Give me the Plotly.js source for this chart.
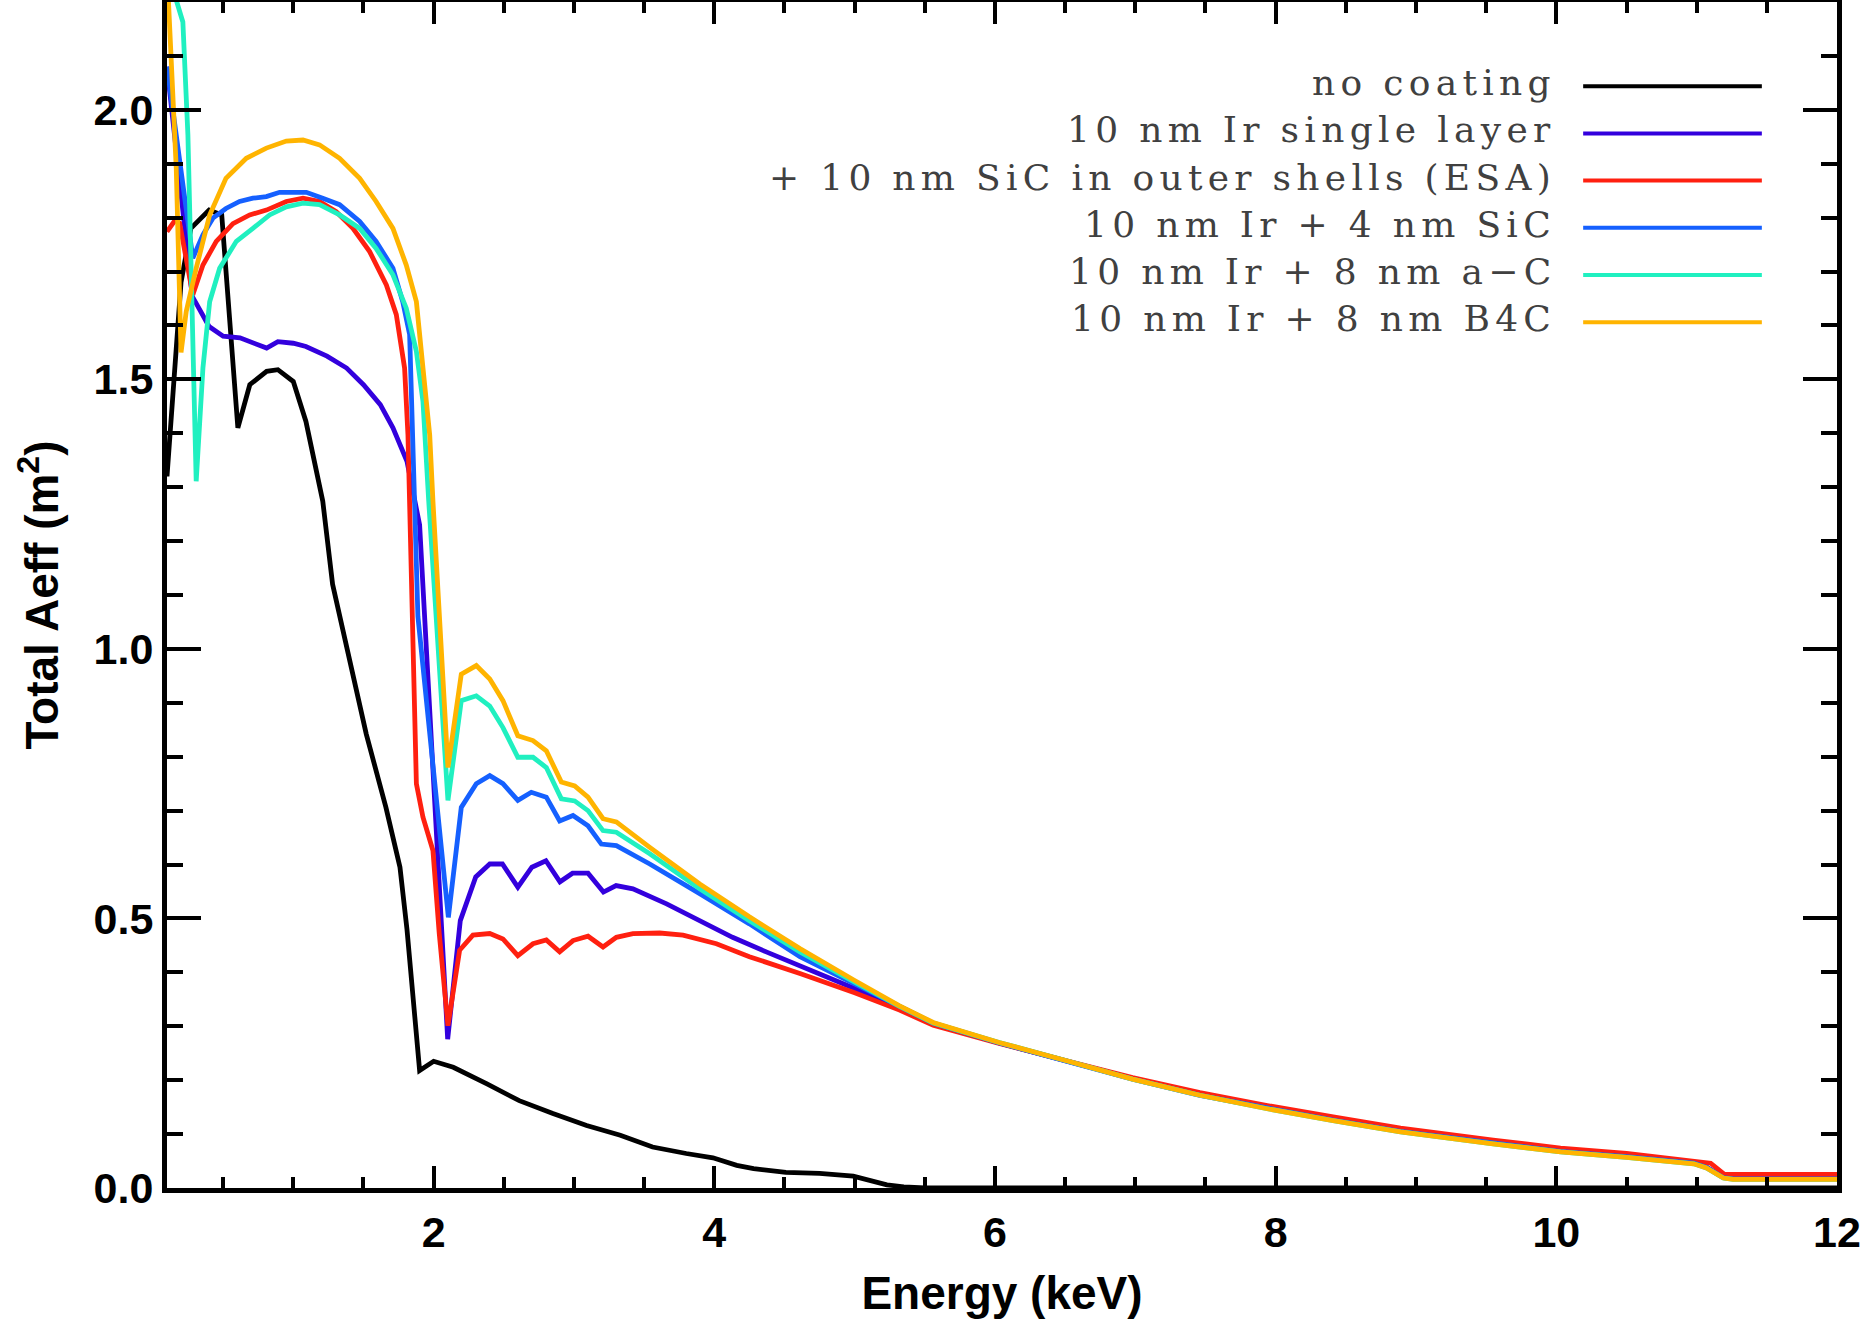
<!DOCTYPE html>
<html>
<head>
<meta charset="utf-8">
<script src="https://cdn.plot.ly/plotly-3.0.1.min.js"></script>
<style>html,body{margin:0;padding:0;background:#fff}</style>
</head>
<body>
<div id="AeffPlot" style="width:1874px;height:1327px"></div>
<script>
// no coating
var eNone = [0.1, 0.15, 0.2, 0.27, 0.34, 0.40, 0.49, 0.605, 0.69, 0.81, 0.89, 1.0, 1.09, 1.21, 1.28, 1.40, 1.52, 1.66, 1.76, 1.81, 1.90, 2.0, 2.14, 2.38, 2.61, 2.85, 3.09, 3.33, 3.56, 3.80, 3.99, 4.16, 4.28, 4.51, 4.75, 4.99, 5.11, 5.23, 5.35, 5.5, 12.0];
var aNone = [1.32, 1.50, 1.68, 1.78, 1.80, 1.814, 1.805, 1.41, 1.49, 1.515, 1.518, 1.496, 1.422, 1.274, 1.12, 0.978, 0.842, 0.706, 0.595, 0.48, 0.218, 0.235, 0.224, 0.193, 0.162, 0.138, 0.116, 0.098, 0.076, 0.064, 0.056, 0.042, 0.036, 0.029, 0.027, 0.022, 0.014, 0.006, 0.002, 0.0, 0.0];

// 10 nm Ir single layer
var eIr = [0.1, 0.28, 0.40, 0.50, 0.62, 0.74, 0.81, 0.89, 1.0, 1.09, 1.24, 1.38, 1.50, 1.62, 1.71, 1.81, 1.87, 1.90, 2.10, 2.19, 2.30, 2.40, 2.49, 2.60, 2.70, 2.80, 2.90, 2.99, 3.10, 3.21, 3.30, 3.42, 3.66, 3.90, 4.13, 4.37, 4.61, 5.0, 5.32, 5.56, 6.03, 6.51, 6.98, 7.46, 7.94, 8.41, 8.89, 9.55, 10.03, 10.5, 10.98, 11.07, 11.19, 11.26, 12.0];
var aIr = [2.08, 1.654, 1.598, 1.580, 1.577, 1.564, 1.558, 1.570, 1.567, 1.561, 1.543, 1.521, 1.490, 1.453, 1.410, 1.348, 1.274, 1.23, 0.276, 0.496, 0.577, 0.601, 0.601, 0.558, 0.595, 0.607, 0.568, 0.584, 0.584, 0.549, 0.561, 0.555, 0.527, 0.496, 0.465, 0.438, 0.413, 0.370, 0.334, 0.305, 0.269, 0.236, 0.203, 0.173, 0.149, 0.127, 0.106, 0.084, 0.069, 0.059, 0.047, 0.039, 0.02, 0.018, 0.018];

// + 10 nm SiC in outer shells (ESA)
var eEsa = [0.1, 0.16, 0.19, 0.284, 0.356, 0.451, 0.57, 0.689, 0.808, 0.95, 1.069, 1.187, 1.306, 1.425, 1.544, 1.663, 1.734, 1.793, 1.817, 1.829, 1.877, 1.924, 1.995, 2.04, 2.102, 2.185, 2.28, 2.40, 2.494, 2.60, 2.708, 2.803, 2.898, 2.993, 3.10, 3.207, 3.302, 3.42, 3.61, 3.777, 4.015, 4.25, 4.61, 5.0, 5.32, 5.56, 6.03, 6.51, 6.98, 7.46, 7.94, 8.41, 8.89, 9.55, 10.03, 10.5, 10.98, 11.1, 11.2, 12.0];
var aEsa = [1.774, 1.796, 1.79, 1.657, 1.712, 1.756, 1.789, 1.805, 1.814, 1.830, 1.836, 1.830, 1.811, 1.780, 1.737, 1.675, 1.620, 1.521, 1.397, 1.274, 0.75, 0.688, 0.626, 0.472, 0.301, 0.441, 0.469, 0.472, 0.462, 0.431, 0.453, 0.46, 0.438, 0.459, 0.467, 0.447, 0.465, 0.472, 0.473, 0.469, 0.453, 0.429, 0.398, 0.362, 0.330, 0.302, 0.268, 0.236, 0.205, 0.177, 0.153, 0.132, 0.111, 0.089, 0.074, 0.064, 0.051, 0.046, 0.025, 0.025];

// 10 nm Ir + 4 nm SiC
var eSiC = [0.1, 0.284, 0.356, 0.427, 0.52, 0.617, 0.712, 0.808, 0.902, 0.997, 1.093, 1.21, 1.33, 1.473, 1.59, 1.71, 1.78, 1.829, 1.86, 1.888, 2.105, 2.197, 2.304, 2.40, 2.494, 2.60, 2.696, 2.803, 2.898, 2.993, 3.10, 3.195, 3.302, 3.54, 3.896, 4.25, 4.61, 5.0, 5.32, 5.56, 6.03, 6.51, 6.98, 7.46, 7.94, 8.41, 8.89, 9.55, 10.03, 10.5, 10.98, 11.07, 11.19, 11.26, 12.0];
var aSiC = [2.08, 1.725, 1.768, 1.799, 1.817, 1.830, 1.836, 1.839, 1.847, 1.848, 1.847, 1.836, 1.824, 1.793, 1.756, 1.706, 1.644, 1.583, 1.274, 1.06, 0.502, 0.706, 0.75, 0.765, 0.75, 0.719, 0.734, 0.725, 0.681, 0.691, 0.672, 0.638, 0.635, 0.601, 0.546, 0.49, 0.429, 0.378, 0.336, 0.306, 0.269, 0.236, 0.202, 0.172, 0.148, 0.126, 0.105, 0.083, 0.068, 0.058, 0.046, 0.038, 0.019, 0.017, 0.017];

// 10 nm Ir + 8 nm a-C
var eAC = [0.1, 0.213, 0.249, 0.308, 0.356, 0.404, 0.475, 0.594, 0.712, 0.831, 0.95, 1.069, 1.187, 1.33, 1.473, 1.59, 1.71, 1.805, 1.877, 1.924, 1.965, 2.102, 2.197, 2.304, 2.40, 2.494, 2.60, 2.708, 2.803, 2.91, 3.005, 3.10, 3.207, 3.302, 3.54, 3.896, 4.25, 4.61, 5.0, 5.32, 5.56, 6.03, 6.51, 6.98, 7.46, 7.94, 8.41, 8.89, 9.55, 10.03, 10.5, 10.98, 11.07, 11.19, 11.26, 12.0];
var aAC = [2.26, 2.163, 1.953, 1.311, 1.521, 1.644, 1.706, 1.756, 1.780, 1.805, 1.820, 1.827, 1.824, 1.805, 1.780, 1.743, 1.694, 1.632, 1.552, 1.459, 1.274, 0.719, 0.904, 0.913, 0.894, 0.854, 0.799, 0.799, 0.78, 0.722, 0.718, 0.70, 0.663, 0.66, 0.62, 0.555, 0.496, 0.438, 0.382, 0.337, 0.306, 0.270, 0.236, 0.202, 0.172, 0.147, 0.125, 0.104, 0.082, 0.067, 0.057, 0.045, 0.037, 0.0185, 0.016, 0.016];

// 10 nm Ir + 8 nm B4C
var eB4C = [0.1, 0.166, 0.2, 0.237, 0.308, 0.404, 0.52, 0.665, 0.808, 0.95, 1.069, 1.187, 1.33, 1.473, 1.59, 1.71, 1.805, 1.877, 1.924, 1.972, 1.995, 2.102, 2.197, 2.304, 2.40, 2.494, 2.60, 2.708, 2.803, 2.91, 3.005, 3.10, 3.207, 3.302, 3.54, 3.896, 4.25, 4.61, 5.0, 5.32, 5.56, 6.03, 6.51, 6.98, 7.46, 7.94, 8.41, 8.89, 9.55, 10.03, 10.5, 10.98, 11.07, 11.19, 11.26, 12.0];
var aB4C = [2.26, 1.891, 1.55, 1.626, 1.706, 1.805, 1.873, 1.91, 1.929, 1.942, 1.944, 1.935, 1.91, 1.873, 1.83, 1.78, 1.712, 1.644, 1.521, 1.397, 1.274, 0.78, 0.953, 0.969, 0.944, 0.904, 0.839, 0.83, 0.811, 0.753, 0.746, 0.725, 0.685, 0.679, 0.632, 0.564, 0.503, 0.444, 0.385, 0.338, 0.307, 0.270, 0.236, 0.202, 0.172, 0.147, 0.125, 0.104, 0.082, 0.067, 0.057, 0.045, 0.037, 0.0185, 0.016, 0.016];

var names = ['no coating', '10 nm Ir single layer', '+ 10 nm SiC in outer shells (ESA)', '10 nm Ir + 4 nm SiC', '10 nm Ir + 8 nm a\u2212C', '10 nm Ir + 8 nm B4C'];
var colors = ['#000000', '#3300dd', '#ff2010', '#1560ff', '#20f0c0', '#ffb400'];
var energies = [eNone, eIr, eEsa, eSiC, eAC, eB4C];
var areas = [aNone, aIr, aEsa, aSiC, aAC, aB4C];

var data = [];
for (var i = 0; i < names.length; i++) {
    data.push({
        x: energies[i],
        y: areas[i],
        type: 'scatter',
        mode: 'lines',
        name: names[i],
        line: {color: colors[i], width: 4.8},
        showlegend: false
    });
}

// legend drawn by hand: text on the left, line sample on the right
var annotations = [];
var shapes = [];
for (var i = 0; i < names.length; i++) {
    var yy = 0.929 - i * 0.0398;
    annotations.push({
        xref: 'paper', yref: 'paper', x: 0.833, y: yy + 0.003,
        xanchor: 'right', yanchor: 'middle', showarrow: false,
        text: '<span style="letter-spacing:5.3px;word-spacing:-1px">' + names[i] + '</span>',
        font: {family: 'DejaVu Serif', size: 36, color: '#404040'}
    });
    shapes.push({
        type: 'line', xref: 'paper', yref: 'paper',
        x0: 0.848, x1: 0.955, y0: yy, y1: yy,
        line: {color: colors[i], width: 4}
    });
}

var tickFont = {family: 'Liberation Sans', size: 43, color: '#000', weight: 'bold'};
var titleFont = {family: 'Liberation Sans', size: 46, color: '#000', weight: 'bold'};

var layout = {
    width: 1874,
    height: 1327,
    margin: {l: 167, r: 37, t: 2, b: 139},
    paper_bgcolor: '#fff',
    plot_bgcolor: '#fff',
    xaxis: {
        range: [0.1, 12],
        dtick: 2, tick0: 0,
        ticks: 'inside', ticklen: 22, tickwidth: 4, tickcolor: '#000',
        minor: {dtick: 0.5, ticks: 'inside', ticklen: 11, tickwidth: 4, tickcolor: '#000', showgrid: false},
        showline: true, linecolor: '#000', linewidth: 5, mirror: 'allticks',
        showgrid: false, zeroline: false,
        tickfont: tickFont, ticklabelstandoff: 2,
        title: {text: 'Energy (keV)', font: titleFont, standoff: 24}
    },
    yaxis: {
        range: [0, 2.2],
        dtick: 0.5, tick0: 0, tickformat: '.1f',
        ticks: 'inside', ticklen: 34, tickwidth: 4, tickcolor: '#000',
        minor: {dtick: 0.1, ticks: 'inside', ticklen: 16, tickwidth: 4, tickcolor: '#000', showgrid: false},
        showline: true, linecolor: '#000', linewidth: 5, mirror: 'allticks',
        showgrid: false, zeroline: false,
        tickfont: tickFont, ticklabelstandoff: 0,
        title: {text: 'Total Aeff (m<sup>2</sup>)', font: titleFont, standoff: 22}
    },
    annotations: annotations,
    shapes: shapes
};

Plotly.newPlot('AeffPlot', data, layout, {staticPlot: true});
</script>
</body>
</html>
